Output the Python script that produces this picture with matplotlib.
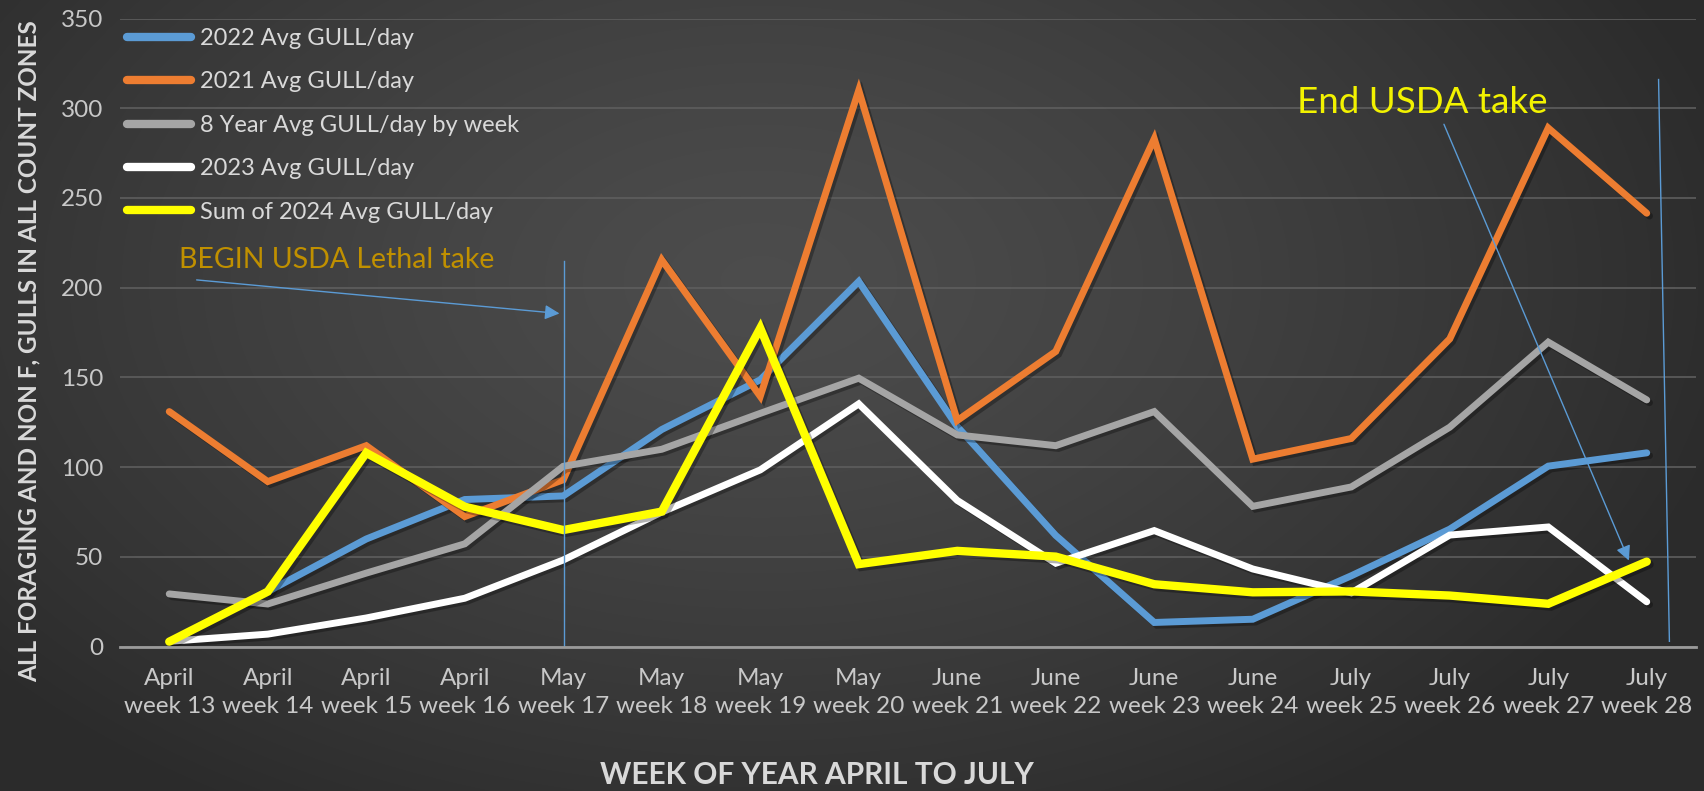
import numpy as np
import matplotlib
matplotlib.use("Agg")
import matplotlib.pyplot as plt
import matplotlib.patheffects as pe

plt.rcParams['font.family'] = ['Lato', 'DejaVu Sans']

# data, weeks 13..28
months = ['April', 'April', 'April', 'April', 'May', 'May', 'May', 'May',
          'June', 'June', 'June', 'June', 'July', 'July', 'July', 'July']
weeks = list(range(13, 29))

gull_2022 = [np.nan, 30.7, 60, 82, 84, 121, 148.7, 203.5,
             122.7, 62, 13.5, 15.3, 39.5, 65.5, 100.6, 108]
gull_2021 = [131, 92, 112, 72.5, 93, 215.5, 139.5, 310,
             126, 164.5, 283, 104.5, 116, 171.5, 289, 241.5]
gull_8yr = [29.4, 23.8, 41, 57.3, 100.5, 110, 130, 149.6,
            118, 112, 131, 78.2, 89, 122.3, 169.7, 137.5]
gull_2023 = [3, 7, 16, 27, 48.3, 75, 98.5, 135.3,
             81.5, 46.5, 64.7, 43.3, 30, 62.2, 66.7, 25]
gull_2024 = [2.8, 30.7, 108, 78, 65, 75.3, 177.5, 46,
             53.4, 50.2, 34.8, 30.3, 30.8, 28.5, 23.9, 47.4]

series = [
    ('2022 Avg GULL/day', gull_2022, '#5B9BD5', 5),
    ('2021 Avg GULL/day', gull_2021, '#ED7D31', 5),
    ('8 Year Avg GULL/day by week', gull_8yr, '#A5A5A5', 5),
    ('2023 Avg GULL/day', gull_2023, '#FFFFFF', 5),
    ('Sum of 2024 Avg GULL/day', gull_2024, '#FFFF00', 6),
]

W, H = 1704, 791
fig = plt.figure(figsize=(W / 100, H / 100), dpi=100)

# radial dark-grey gradient background
bg = fig.add_axes([0, 0, 1, 1], zorder=-10)
yy, xx = np.mgrid[0:H, 0:W]
r = np.sqrt(((xx - 760) / 1000.0) ** 2 + ((yy - 280) / 620.0) ** 2)
shade = 0.30 - 0.13 * np.clip(r, 0, 1) ** 1.3
bg.imshow(np.dstack([shade] * 3), aspect='auto', extent=[0, 1, 0, 1])
bg.axis('off')

ax = fig.add_axes([120 / W, 1 - 646.7 / H, (1696 - 120) / W, (646.7 - 18.5) / H])
ax.patch.set_alpha(0)

x = np.arange(len(weeks))
shadow = [pe.SimpleLineShadow(offset=(2, -2), shadow_color='black', alpha=0.3), pe.Normal()]
for label, vals, color, lw in series:
    ax.plot(x, vals, color=color, lw=lw, label=label, solid_joinstyle='miter',
            solid_capstyle='round', path_effects=shadow)

ax.set_xlim(-0.5, len(weeks) - 0.5)
ax.set_ylim(0, 350)
ax.set_yticks(range(0, 351, 50))
ax.set_xticks(x)
ax.set_xticklabels([f'{m}\nweek {w}' for m, w in zip(months, weeks)], linespacing=1.45)
ax.tick_params(length=0, labelsize=17.5, colors='#C8C8C8')
ax.tick_params(axis='x', pad=15)
ax.tick_params(axis='y', pad=12)
ax.grid(axis='y', color='#5E5E5E', lw=1.2)
for s in ['top', 'right', 'left']:
    ax.spines[s].set_visible(False)
ax.spines['bottom'].set_color('#9A9A9A')
ax.spines['bottom'].set_linewidth(2)
ax.set_axisbelow(True)

# annotations: lethal take start / end
blue = '#5B9BD5'
ax.plot([4.01, 4.01], [0, 215], color=blue, lw=1)
ax.plot([15.12, 15.23], [316, 3], color=blue, lw=1)
ax.annotate('', xy=(3.99, 185.5), xytext=(0.25, 204.5),
            arrowprops=dict(arrowstyle='-|>', color=blue, lw=1, mutation_scale=22))
ax.annotate('', xy=(14.83, 46.6), xytext=(12.93, 292.5),
            arrowprops=dict(arrowstyle='-|>', color=blue, lw=1, mutation_scale=22))
ax.text(1.70, 215.6, 'BEGIN USDA Lethal take', color='#C09000', fontsize=20.5,
        ha='center', va='center')
ax.text(12.72, 303, 'End USDA take', color='#F2F200', fontsize=26.5,
        ha='center', va='center')

leg = ax.legend(loc='upper left', bbox_to_anchor=(127 / W, 1 - 28 / H),
                bbox_transform=fig.transFigure, frameon=False, fontsize=17,
                borderaxespad=0, borderpad=0, handlelength=2.7, handletextpad=0.4,
                labelspacing=0.95)
for t in leg.get_texts():
    t.set_color('#D9D9D9')
for h in leg.get_lines():
    h.set_linewidth(6)
    h.set_path_effects([])

fig.text(29 / W, 1 - 351 / H, 'ALL FORAGING AND NON F, GULLS IN ALL COUNT ZONES',
         rotation=90, ha='center', va='center', fontsize=17.5, fontweight='bold',
         color='#D9D9D9')
fig.text(816.7 / W, 1 - 775 / H, 'WEEK OF YEAR APRIL TO JULY', ha='center',
         va='center', fontsize=21.5, fontweight='bold', color='#D9D9D9')

fig.savefig('out.png', dpi=100)
